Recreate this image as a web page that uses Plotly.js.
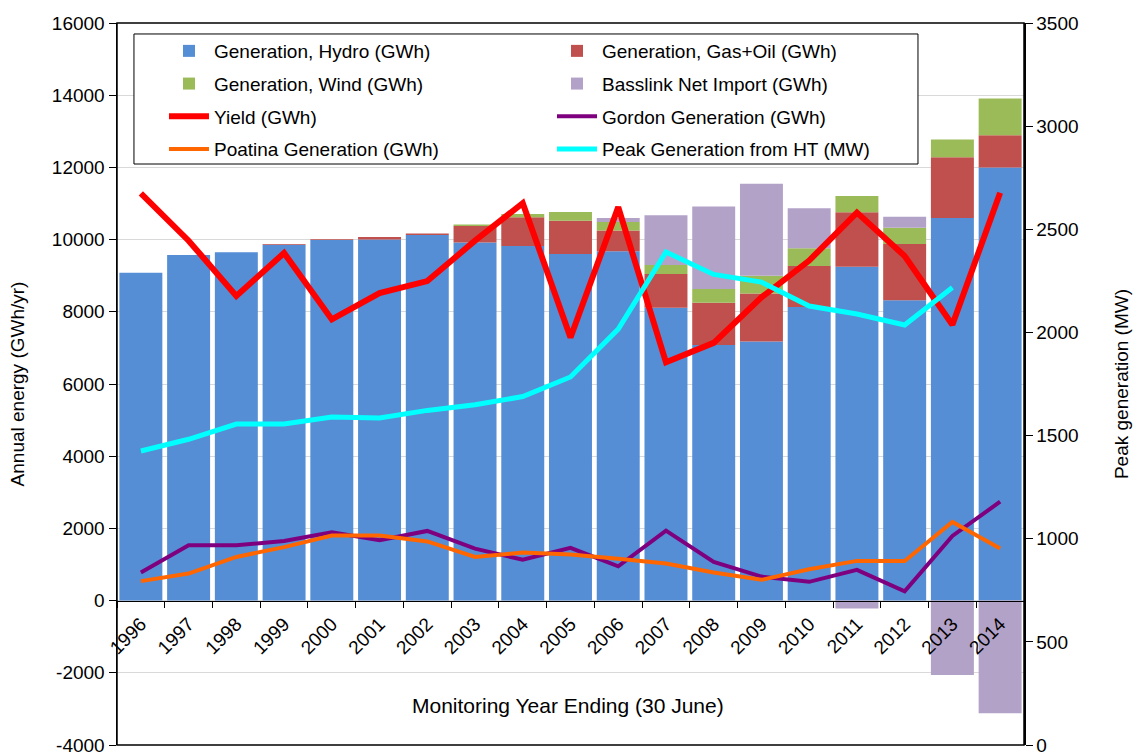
<!DOCTYPE html>
<html>
<head>
<meta charset="utf-8">
<script src="https://cdn.plot.ly/plotly-3.0.1.min.js"></script>
<style>
  body { margin: 0; background: #fff; }
  #myGraph { width: 1137px; height: 756px; }
</style>
</head>
<body>
<div id="myGraph"></div>
<script>
// monitoring years (ending 30 June)
const years = ["1996", "1997", "1998", "1999", "2000", "2001", "2002", "2003", "2004", "2005",
  "2006", "2007", "2008", "2009", "2010", "2011", "2012", "2013", "2014"];

// stacked bars, GWh
const hydro = [9080, 9570, 9650, 9860, 9990, 10000, 10130, 9920, 9820, 9600,
  9680, 8110, 7080, 7180, 8130, 9250, 8320, 10600, 12000];
const gasOil = [0, 0, 0, 20, 20, 70, 40, 460, 800, 920,
  570, 940, 1170, 1330, 1140, 1510, 1555, 1680, 890];
const wind = [0, 0, 0, 0, 0, 0, 0, 40, 90, 245,
  235, 245, 380, 490, 490, 450, 450, 490, 1020];
const basslink = [0, 0, 0, 0, 0, 0, 0, 0, 0, 0,
  110, 1380, 2290, 2550, 1105, -220, 307, -2060, -3120];

// lines, GWh
const yieldGWh = [11280, 9970, 8440, 9630, 7790, 8520, 8850, 9970, 11010, 7290,
  10900, 6600, 7140, 8400, 9420, 10750, 9545, 7640, 11300];
const gordon = [780, 1535, 1535, 1650, 1890, 1670, 1930, 1440, 1130, 1460,
  950, 1940, 1070, 665, 520, 850, 255, 1790, 2740];
const poatina = [540, 750, 1210, 1480, 1800, 1800, 1640, 1210, 1330, 1280,
  1160, 1030, 780, 575, 870, 1100, 1095, 2180, 1440];

// peak generation from HT, MW (right axis)
const peakMW = [1425, 1482, 1556, 1556, 1590, 1585, 1622, 1649, 1689, 1784,
  2016, 2390, 2281, 2244, 2128, 2089, 2036, 2218, null];

// left axis tick labels (plain hyphen for negatives, like the original)
const energyTicks = [-4000, -2000, 0, 2000, 4000, 6000, 8000, 10000, 12000, 14000, 16000];
const energyTickText = ["-4000", "-2000", "0", "2000", "4000", "6000", "8000", "10000", "12000", "14000", "16000"];

const font = "Liberation Sans, Arial, sans-serif";

function barTrace(name, values, color, legendId) {
  return { type: "bar", name: name, x: years, y: values, legend: legendId, legendgroup: name,
    marker: { color: color, line: { width: 0 } } };
}
function lineTrace(name, values, color, width, legendId, axis) {
  return { type: "scatter", mode: "lines", name: name, x: years, y: values, yaxis: axis || "y",
    legend: legendId, legendgroup: name, line: { color: color, width: width } };
}

const data = [
  barTrace("Generation, Hydro (GWh)", hydro, "#558ed5", "legend"),
  barTrace("Generation, Gas+Oil (GWh)", gasOil, "#c0504d", "legend2"),
  barTrace("Generation, Wind (GWh)", wind, "#9bbb59", "legend"),
  barTrace("Basslink Net Import (GWh)", basslink, "#b3a2c7", "legend2"),
  lineTrace("Yield (GWh)", yieldGWh, "#ff0000", 6, "legend"),
  lineTrace("Gordon Generation (GWh)", gordon, "#7f007f", 4, "legend2"),
  lineTrace("Poatina Generation (GWh)", poatina, "#ff6600", 4, "legend"),
  lineTrace("Peak Generation from HT (MW)", peakMW, "#00ffff", 5, "legend2", "y2"),
];

// two legend columns, one shared box drawn as a shape
const legendBase = {
  orientation: "v",
  yanchor: "top", xanchor: "left",
  y: 0.9875,
  bgcolor: "rgba(0,0,0,0)", borderwidth: 0,
  font: { size: 19 },
  itemwidth: 40,
  traceorder: "grouped",
  tracegroupgap: 5,
};

const layout = {
  width: 1137,
  height: 756,
  margin: { l: 117, r: 113, t: 23, b: 11 },
  paper_bgcolor: "#fff",
  plot_bgcolor: "#fff",
  font: { family: font, size: 19, color: "#000" },
  barmode: "relative",
  bargap: 0.1,
  showlegend: true,
  legend: Object.assign({}, legendBase, { x: 0.0518 }),
  legend2: Object.assign({}, legendBase, { x: 0.4796 }),
  xaxis: {
    type: "category",
    anchor: "free",
    position: 0.2,
    showline: true, linecolor: "#000", linewidth: 1,
    ticks: "outside", ticklen: 6, tickcolor: "#000",
    tickson: "boundaries",
    tickangle: -45,
    ticklabelstandoff: 4,
    tickfont: { size: 19 },
    showgrid: false,
  },
  yaxis: {
    range: [-4000, 16000],
    tickmode: "array",
    tickvals: energyTicks,
    ticktext: energyTickText,
    showline: true, linecolor: "#000", linewidth: 1.5,
    ticks: "outside", ticklen: 7, tickcolor: "#000",
    gridcolor: "#d9d9d9", gridwidth: 1,
    zeroline: false,
    tickfont: { size: 19 },
    title: { text: "Annual energy (GWh/yr)", font: { size: 19 }, standoff: 22 },
  },
  yaxis2: {
    overlaying: "y",
    side: "right",
    range: [0, 3500],
    dtick: 500,
    showline: true, linecolor: "#000", linewidth: 1.5,
    ticks: "outside", ticklen: 7, tickcolor: "#000",
    showgrid: false,
    zeroline: false,
    tickfont: { size: 19 },
    title: { text: "Peak generation (MW)", font: { size: 19 }, standoff: 37 },
  },
  shapes: [
    // plot frame
    { type: "rect", xref: "paper", yref: "paper", x0: 0, x1: 1, y0: 0, y1: 1,
      line: { color: "#000", width: 1.5 }, layer: "above" },
    // legend box
    { type: "rect", xref: "paper", yref: "paper", x0: 0.0187, x1: 0.8831, y0: 0.8047, y1: 0.9848,
      fillcolor: "#fff", line: { color: "#000", width: 1 }, layer: "above" },
  ],
  annotations: [
    { text: "Monitoring Year Ending (30 June)", xref: "paper", yref: "paper",
      x: 0.497, y: 0.055, yanchor: "middle", showarrow: false, font: { size: 21 } },
  ],
};

Plotly.newPlot("myGraph", data, layout, { staticPlot: true });
</script>
</body>
</html>
